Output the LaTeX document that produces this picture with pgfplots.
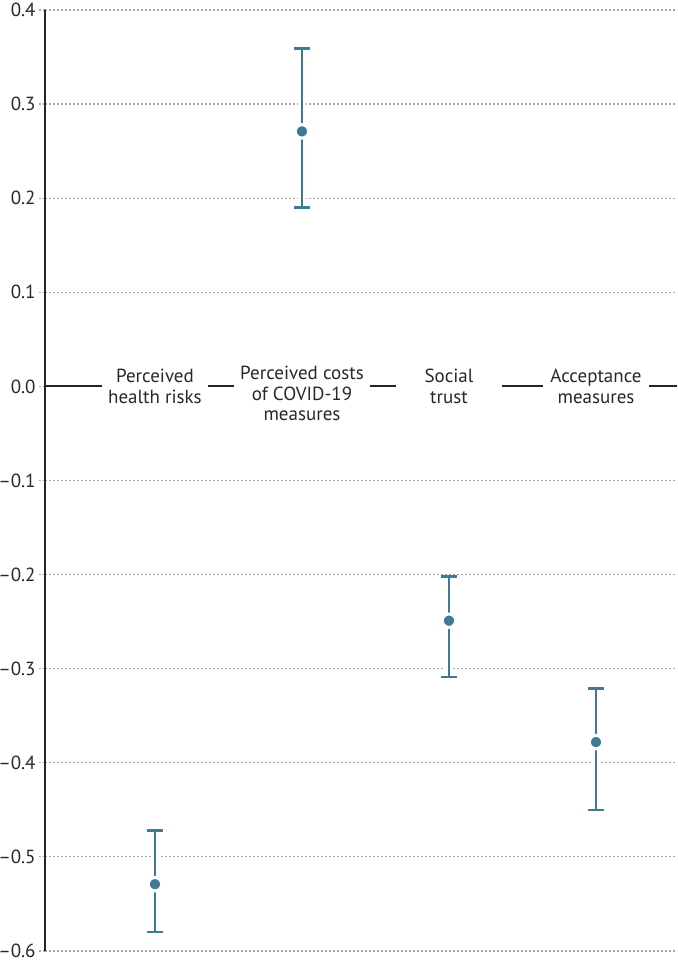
\documentclass[border=0pt]{standalone}
\usepackage{fontspec}
\setmainfont{PT Sans}
\usepackage{pgfplots}
\pgfplotsset{compat=1.18}
\definecolor{dotblue}{RGB}{62,122,150}
\definecolor{txt}{RGB}{40,40,40}
\begin{document}
\begin{tikzpicture}
\begin{axis}[
  scale only axis,
  width=316pt, height=470.5pt,
  xmin=-0.748, xmax=3.551,
  ymin=-0.6, ymax=0.4,
  axis lines*=left,
  x axis line style={draw=none},
  y axis line style={line width=1pt, color=black!85},
  xtick=\empty,
  ytick={-0.6,-0.5,-0.4,-0.3,-0.2,-0.1,0,0.1,0.2,0.3,0.4},
  yticklabels={–0.6,–0.5,–0.4,–0.3,–0.2,–0.1,0.0,0.1,0.2,0.3,0.4},
  ytick pos=left,
  tick align=outside,
  major tick length=3pt,
  y tick style={draw=gray!70, line width=0.6pt, dash pattern=on 1pt off 1pt},
  yticklabel style={font=\fontsize{9.5}{11}\selectfont, text=txt, inner xsep=1.5pt},
  ymajorgrids,
  major grid style={draw=gray!70, line width=0.6pt, dash pattern=on 1pt off 1pt},
  extra y ticks={0},
  extra y tick labels={},
  extra y tick style={major tick length=0pt, grid=major, major grid style={solid, draw=black!85, line width=1pt}},
  clip=false,
]
\addplot[draw=white, line width=4pt, only marks, mark=none,
  error bars/.cd, y dir=both, y explicit,
  error bar style={line width=4pt, draw=white}, error mark=none]
  coordinates {
  (0,-0.529) -= (0,0.051) += (0,0.057)
  (1,0.271) -= (0,0.081) += (0,0.088)
  (2,-0.249) -= (0,0.060) += (0,0.047)
  (3,-0.378) -= (0,0.072) += (0,0.057)
  };
\addplot[only marks, mark=*, mark size=3.2pt,
  mark options={fill=dotblue, draw=white, line width=1.2pt},
  error bars/.cd, y dir=both, y explicit,
  error bar style={line width=1.2pt, draw=dotblue},
  error mark options={line width=1.2pt, draw=dotblue, mark size=4.2pt, rotate=90}]
  coordinates {
  (0,-0.529) -= (0,0.051) += (0,0.057)
  (1,0.271) -= (0,0.081) += (0,0.088)
  (2,-0.249) -= (0,0.060) += (0,0.047)
  (3,-0.378) -= (0,0.072) += (0,0.057)
  };
\begin{scope}[every node/.style={fill=white, text=txt, align=center, minimum width=53pt, inner xsep=3pt, inner ysep=1pt, font=\fontsize{9.5}{10.2}\selectfont}]
\node at (axis cs:0,0) {Perceived\\health risks};
\node[minimum width=59pt] at (axis cs:1,-0.0075) {Perceived costs\\of COVID-19\\measures};
\node at (axis cs:2,0) {Social\\trust};
\node at (axis cs:3,0) {Acceptance\\measures};
\end{scope}
\end{axis}
\pgfresetboundingbox
\path ([xshift=-22.5pt,yshift=-5pt]current axis.south west) rectangle ([yshift=5pt]current axis.north east);
\end{tikzpicture}
\end{document}
